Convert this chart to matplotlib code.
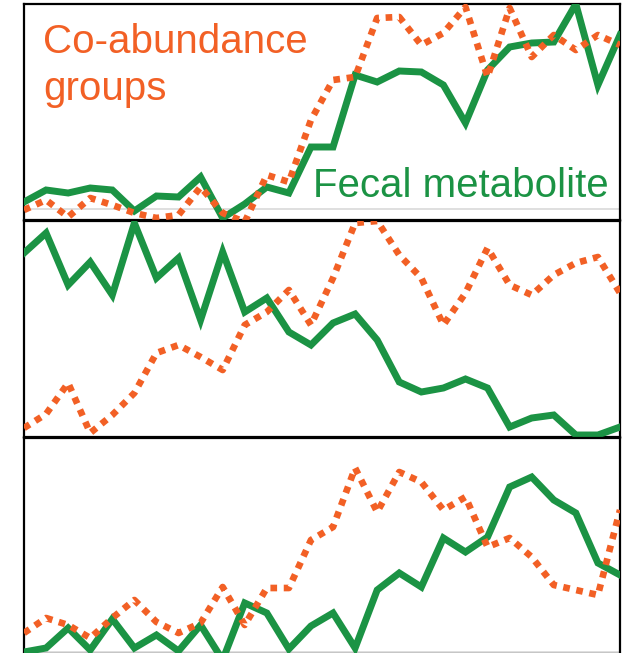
import matplotlib
matplotlib.use("Agg")
import matplotlib.pyplot as plt

# heights, one value per time step (28 steps)
green_top = [18, 30, 27, 32, 30, 9, 24, 23, 43, 2, 16, 33, 27, 73, 73,
             145, 138, 149, 148, 135, 97, 150, 173, 177, 178, 216, 135, 185]
orange_top = [10, 20, 3, 22, 15, 7, 2, 5, 33, 7, -2, 45, 38, 100, 140,
              143, 202, 203, 175, 187, 213, 143, 212, 163, 185, 170, 185, 175]

green_mid = [184, 204, 152, 175, 142, 214, 159, 179, 117, 185, 125, 139, 105, 92,
             114, 123, 97, 55, 45, 49, 58, 49, 10, 19, 22, 2, 2, 10]
orange_mid = [9, 23, 54, 4, 22, 44, 84, 92, 80, 67, 112, 125, 147, 112,
              159, 214, 216, 182, 159, 112, 144, 189, 152, 142, 162, 174, 180, 144]

green_bot = [2, 6, 26, 4, 35, 6, 19, 3, 29, -6, 51, 41, 5, 28,
             41, 6, 64, 81, 67, 116, 102, 117, 167, 177, 154, 141, 91, 79]
orange_bot = [21, 36, 29, 16, 36, 54, 32, 21, 31, 67, 29, 66, 66, 114,
              127, 186, 142, 182, 172, 144, 157, 107, 116, 97, 69, 64, 59, 144]

steps = list(range(len(green_top)))

GREEN = '#1b9344'
ORANGE = '#f26025'

W, H = 638, 653
fig = plt.figure(figsize=(W / 100, H / 100), dpi=100)

# panel boxes in pixels: (top, bottom)
boxes = [(4, 220), (221, 437), (438, 654)]
panels = [(green_top, orange_top), (green_mid, orange_mid), (green_bot, orange_bot)]
left, right = 24, 620

axes = []
for (top, bottom), (g, o) in zip(boxes, panels):
    ax = fig.add_axes([left / W, 1 - bottom / H, (right - left) / W, (bottom - top) / H])
    ax.plot(steps, g, color=GREEN, lw=5.0, solid_joinstyle='miter', zorder=3)
    ax.plot(steps, o, color=ORANGE, lw=4.8, linestyle=(0, (1.0, 1.0)),
            dash_capstyle='butt', zorder=4)
    ax.set_xlim(0, len(steps) - 1)
    ax.set_ylim(0, 216)
    ax.set_xticks([])
    ax.set_yticks([])
    for s in ax.spines.values():
        s.set_linewidth(1.6)
        s.set_color('black')
    axes.append(ax)

axes[0].axhline(11, color='#d9d9d9', lw=1.2, zorder=1)
axes[2].axhline(2, color='#d9d9d9', lw=1.2, zorder=1)

font = dict(family=['Liberation Sans', 'DejaVu Sans'], fontsize=29)
axes[0].text(0.032, 0.772, 'Co-abundance', color=ORANGE, transform=axes[0].transAxes,
             va='baseline', ha='left', **font)
axes[0].text(0.032, 0.555, 'groups', color=ORANGE, transform=axes[0].transAxes,
             va='baseline', ha='left', **font)
axes[0].text(0.485, 0.106, 'Fecal metabolite', color=GREEN, transform=axes[0].transAxes,
             va='baseline', ha='left', **font)

fig.savefig('out.png', dpi=100)
